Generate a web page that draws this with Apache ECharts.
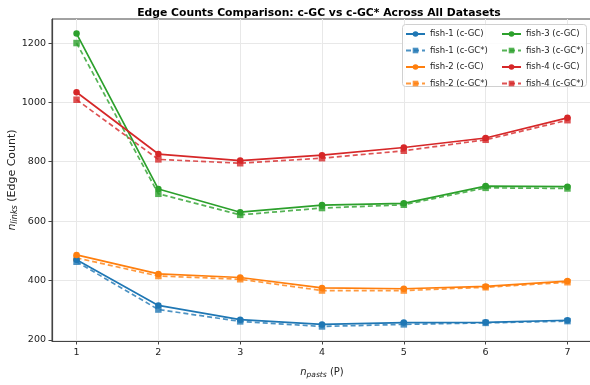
<!DOCTYPE html>
<html><head><meta charset="utf-8">
<script src="https://cdn.jsdelivr.net/npm/echarts@6/dist/echarts.min.js"></script>
<style>html,body{margin:0;padding:0;background:#fff}#c{width:590px;height:385px}</style>
</head><body><div id="c"></div>
<script>
const pasts = [1, 2, 3, 4, 5, 6, 7];
const fish1_gc  = [470, 316, 268, 252, 258, 259, 266];
const fish1_gcs = [463, 302, 262, 245, 252, 257, 263];
const fish2_gc  = [486, 422, 410, 375, 372, 380, 398];
const fish2_gcs = [476, 415, 404, 366, 366, 377, 394];
const fish3_gc  = [1232, 708, 630, 654, 660, 718, 716];
const fish3_gcs = [1200, 692, 621, 644, 655, 712, 710];
const fish4_gc  = [1034, 826, 804, 822, 848, 880, 948];
const fish4_gcs = [1009, 808, 795, 812, 837, 874, 940];
const yTicks = [200, 400, 600, 800, 1000, 1200];
const xTicks = [1, 2, 3, 4, 5, 6, 7];

const colors = ['#1f77b4', '#ff7f0e', '#2ca02c', '#d62728'];
const groups = [
  ['fish-1', fish1_gc, fish1_gcs],
  ['fish-2', fish2_gc, fish2_gcs],
  ['fish-3', fish3_gc, fish3_gcs],
  ['fish-4', fish4_gc, fish4_gcs]
];
const series = [];
groups.forEach((g, i) => {
  series.push({
    name: g[0] + ' (c-GC)', type: 'line',
    data: pasts.map((p, k) => [p, g[1][k]]),
    symbol: 'circle', symbolSize: 6.5,
    lineStyle: { color: colors[i], width: 1.7 },
    itemStyle: { color: colors[i] },
    z: 3
  });
  series.push({
    name: g[0] + ' (c-GC*)', type: 'line',
    data: pasts.map((p, k) => [p, g[2][k]]),
    symbol: 'rect', symbolSize: 6.5,
    lineStyle: { color: colors[i], width: 1.7, type: [5, 3], opacity: 0.8 },
    itemStyle: { color: colors[i], opacity: 0.8 },
    z: 2
  });
});

const font = 'DejaVu Sans';
const legendCommon = {
  orient: 'vertical', itemWidth: 19, itemHeight: 7, itemGap: 7.5,
  textStyle: { fontFamily: font, fontSize: 8.5, color: '#222' },
  padding: 0
};
const chart = echarts.init(document.getElementById('c'), null, { renderer: 'canvas' });
chart.setOption({
  animation: false,
  title: {
    text: 'Edge Counts Comparison: c-GC vs c-GC* Across All Datasets',
    left: 314, textAlign: 'center', top: 3,
    textStyle: { fontFamily: font, fontSize: 10.8, fontWeight: 'bold', color: '#000' }
  },
  graphic: [{
    type: 'rect', left: 402, top: 24, z: 5,
    shape: { width: 184, height: 62, r: 3 },
    style: { fill: 'rgba(255,255,255,0.85)', stroke: '#d0d0d0', lineWidth: 1 }
  }],
  legend: [
    Object.assign({ left: 405, top: 29.5, z: 10, data: ['fish-1 (c-GC)', 'fish-1 (c-GC*)', 'fish-2 (c-GC)', 'fish-2 (c-GC*)'] }, legendCommon),
    Object.assign({ left: 501, top: 29.5, z: 10, data: ['fish-3 (c-GC)', 'fish-3 (c-GC*)', 'fish-4 (c-GC)', 'fish-4 (c-GC*)'] }, legendCommon)
  ],
  grid: { left: 52, right: -2, top: 19, bottom: 44, show: true, borderColor: '#444', borderWidth: 1,
          containLabel: false, outerBoundsMode: 'none' },
  xAxis: {
    type: 'value', min: 0.7, max: 7.3,
    name: '{i|n}{s|pasts} (P)', nameLocation: 'middle', nameGap: 25, nameMoveOverlap: false,
    nameTextStyle: { fontFamily: font, fontSize: 10, color: '#222',
      rich: { i: { fontStyle: 'italic', fontSize: 10, fontFamily: font }, s: { fontStyle: 'italic', fontSize: 7.5, fontFamily: font, padding: [5, 0, 0, 0] } } },
    axisLine: { show: true, lineStyle: { color: '#444', width: 1.2 } },
    axisTick: { show: true, length: 3.5, lineStyle: { color: '#444' }, customValues: xTicks },
    axisLabel: { fontFamily: font, fontSize: 9.5, color: '#222', margin: 7, customValues: xTicks },
    splitLine: { show: true, lineStyle: { color: '#e8e8e8', width: 1 } }
  },
  yAxis: {
    type: 'value', min: 196, max: 1281,
    name: '{i|n}{s|links} (Edge Count)', nameLocation: 'middle', nameGap: 33, nameRotate: 90, nameMoveOverlap: false,
    nameTextStyle: { fontFamily: font, fontSize: 11, color: '#222',
      rich: { i: { fontStyle: 'italic', fontSize: 11, fontFamily: font }, s: { fontStyle: 'italic', fontSize: 8, fontFamily: font, padding: [5, 0, 0, 0] } } },
    axisLine: { show: true, lineStyle: { color: '#444', width: 1.2 } },
    axisTick: { show: true, length: 3.5, lineStyle: { color: '#444' }, customValues: yTicks },
    axisLabel: { fontFamily: font, fontSize: 9.5, color: '#222', margin: 6, customValues: yTicks,
      formatter: v => String(v) },
    splitLine: { show: true, lineStyle: { color: '#e8e8e8', width: 1 } }
  },
  series: series
});
</script></body></html>
